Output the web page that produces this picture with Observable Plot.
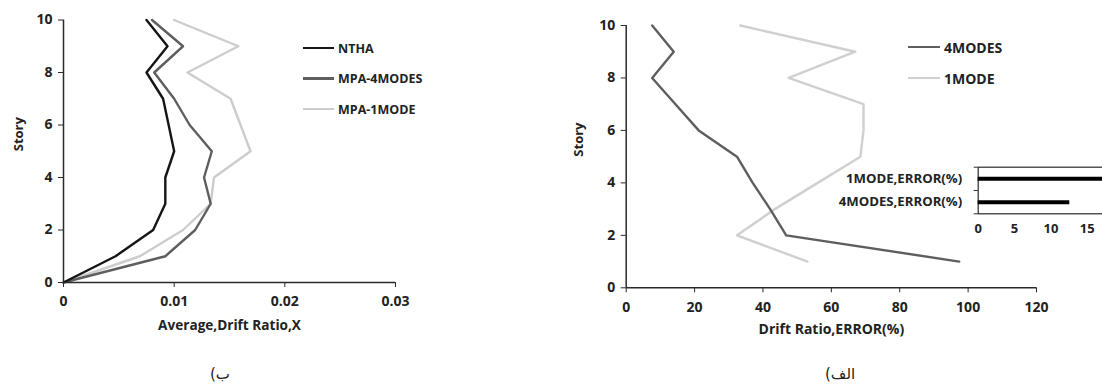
<!DOCTYPE html>
<html><head><meta charset="utf-8">
<script src="https://cdn.jsdelivr.net/npm/d3@7"></script>
<script src="https://cdn.jsdelivr.net/npm/@observablehq/plot@0.6"></script>
<style>
html,body{margin:0;padding:0;background:#fff;overflow:hidden;width:1102px;height:388px;}
#root{position:relative;width:1102px;height:388px;overflow:hidden;font-family:"Open Sans",sans-serif;}
.legend{position:absolute;font-weight:700;color:#222;font-family:"Open Sans",sans-serif;}
.legend .row{position:absolute;display:flex;align-items:center;white-space:nowrap;}
.legend .sw{display:inline-block;height:2.5px;margin-right:4px;}
.cap{position:absolute;font-family:"DejaVu Sans",sans-serif;font-size:15px;color:#222;direction:rtl;}
</style></head>
<body><div id="root"></div>
<script>
// ---------- data ----------
const stories = [0, 1, 2, 3, 4, 5, 6, 7, 8, 9, 10];
const nthaDrift = [0, 0.0047, 0.0081, 0.0092, 0.0092, 0.0100, 0.0095, 0.0090, 0.0075, 0.0094, 0.0075];
const mpa4Drift = [0, 0.0092, 0.0119, 0.0133, 0.0127, 0.0134, 0.0114, 0.0100, 0.0082, 0.0108, 0.0080];
const mpa1Drift = [0, 0.0069, 0.0108, 0.0133, 0.0136, 0.0169, 0.0160, 0.0151, 0.0112, 0.0158, 0.0100];
const driftSeries = ["NTHA", "MPA-4MODES", "MPA-1MODE"];

const errStories = [1, 2, 3, 4, 5, 6, 7, 8, 9, 10];
const err4Modes = [97.4, 46.8, 42.1, 37.0, 32.4, 21.2, 14.4, 7.6, 13.9, 7.6];
const err1Mode = [53.0, 32.4, 43.5, 56.0, 68.5, 69.4, 69.4, 47.5, 67.0, 33.4];
const errSeries = ["4MODES", "1MODE"];

const insetCats = ["1MODE,ERROR(%)", "4MODES,ERROR(%)"];
const insetVals = [20, 12.6];

const driftTicksX = [0, 0.01, 0.02, 0.03];
const storyTicks = [0, 2, 4, 6, 8, 10];
const errTicksX = [0, 20, 40, 60, 80, 100, 120];
const insetTicksX = [0, 5, 10, 15];

const colors = {"NTHA": "#151515", "MPA-4MODES": "#5e5e5e", "MPA-1MODE": "#cdcdcd", "4MODES": "#5e5e5e", "1MODE": "#d0d0d0"};
const axisColor = "#2a2a2a";
const textColor = "#222";

const root = document.getElementById("root");
function place(el, left, top) { el.style.position = "absolute"; el.style.left = left + "px"; el.style.top = top + "px"; root.appendChild(el); return el; }

// ---------- left chart ----------
const driftRows = [];
[nthaDrift, mpa4Drift, mpa1Drift].forEach((arr, k) => stories.forEach((s, i) => driftRows.push({series: driftSeries[k], story: s, v: arr[i]})));

const left = Plot.plot({
  width: 420, height: 340,
  marginLeft: 63, marginTop: 19.5, marginRight: 25, marginBottom: 58,
  style: {fontFamily: "Open Sans, sans-serif", fontWeight: 700, fontSize: "14px", color: textColor, background: "transparent", overflow: "visible"},
  x: {domain: [0, 0.03]},
  y: {domain: [0, 10]},
  marks: [
    Plot.axisX({ticks: driftTicksX, tickFormat: d => String(+d.toFixed(2)), tickSize: 5, tickPadding: 9, label: null, stroke: axisColor}),
    Plot.axisY({ticks: storyTicks, tickSize: 5, tickPadding: 6, label: null, stroke: axisColor}),
    ...driftSeries.slice().reverse().map(s => Plot.line(driftRows.filter(d => d.series === s), {x: "v", y: "story", stroke: colors[s], strokeWidth: 2.4})),
    Plot.ruleX([0], {stroke: axisColor, strokeWidth: 1.5}),
    Plot.ruleY([0], {stroke: axisColor, strokeWidth: 1.5}),
    Plot.text(["Average,Drift Ratio,X"], {frameAnchor: "bottom", dy: 47, fontSize: 13.6, fill: textColor}),
    Plot.text(["Story"], {frameAnchor: "left", dx: -45, rotate: -90, fontSize: 13, fill: textColor})
  ]
});
place(left, 0, 0);

// ---------- right chart ----------
const errRows = [];
[err4Modes, err1Mode].forEach((arr, k) => errStories.forEach((s, i) => errRows.push({series: errSeries[k], story: s, v: arr[i]})));

const right = Plot.plot({
  width: 506, height: 345,
  marginLeft: 75.7, marginTop: 25, marginRight: 20, marginBottom: 57.7,
  style: {fontFamily: "Open Sans, sans-serif", fontWeight: 700, fontSize: "14px", color: textColor, background: "transparent", overflow: "visible"},
  x: {domain: [0, 120]},
  y: {domain: [0, 10]},
  marks: [
    Plot.axisX({ticks: errTicksX, tickSize: 5, tickPadding: 9, label: null, stroke: axisColor}),
    Plot.axisY({ticks: storyTicks, tickSize: 5, tickPadding: 6, label: null, stroke: axisColor}),
    ...errSeries.slice().reverse().map(s => Plot.line(errRows.filter(d => d.series === s), {x: "v", y: "story", stroke: colors[s], strokeWidth: 2.4})),
    Plot.ruleX([0], {stroke: axisColor, strokeWidth: 1.5}),
    Plot.ruleY([0], {stroke: axisColor, strokeWidth: 1.5}),
    Plot.text(["Drift Ratio,ERROR(%)"], {frameAnchor: "bottom", dy: 46, fontSize: 14, fill: textColor}),
    Plot.text(["Story"], {frameAnchor: "left", dx: -47, rotate: -90, fontSize: 13, fill: textColor})
  ]
});
place(right, 550, 0);

// ---------- inset bar chart ----------
const insetRows = insetCats.map((c, i) => ({cat: c, value: insetVals[i], pos: i + 0.5}));
const inset = Plot.plot({
  width: 263.1, height: 93.3,
  marginLeft: 117.7, marginTop: 16.7, marginRight: 0, marginBottom: 30,
  style: {fontFamily: "Open Sans, sans-serif", fontWeight: 700, fontSize: "13px", color: textColor, background: "transparent", overflow: "visible"},
  x: {domain: [0, 20]},
  y: {domain: [0, insetCats.length], reverse: true},
  marks: [
    Plot.frame({stroke: axisColor, strokeWidth: 1.2}),
    Plot.axisX({ticks: insetTicksX, tickSize: 0, tickPadding: 10, label: null}),
    Plot.axisY({ticks: d3.range(insetCats.length + 1), tickSize: 4, tickFormat: () => "", label: null, stroke: axisColor}),
    Plot.ruleY(insetRows, {y: "pos", x1: 0, x2: "value", stroke: "#000", strokeWidth: 4}),
    Plot.text(insetRows, {y: "pos", x: 0, text: "cat", dx: -16, textAnchor: "end", fill: textColor, fontSize: 13.2})
  ]
});
place(inset, 860, 150);

// ---------- legends ----------
function legend(names, left, top, gap, swW, fontSize) {
  const box = document.createElement("div");
  box.className = "legend";
  names.forEach((n, i) => {
    const row = document.createElement("div");
    row.className = "row";
    row.style.top = (i * gap) + "px";
    row.style.fontSize = fontSize + "px";
    row.style.height = "0px";
    const sw = document.createElement("span");
    sw.className = "sw";
    sw.style.width = swW + "px";
    sw.style.background = colors[n];
    row.appendChild(sw);
    row.appendChild(document.createTextNode(n));
    box.appendChild(row);
  });
  return place(box, left, top);
}
legend(driftSeries, 303, 48, 30.5, 31, 12.5);
legend(errSeries, 908, 47, 31, 32, 14);

// ---------- panel captions ----------
const capB = document.createElement("div"); capB.className = "cap"; capB.textContent = "ب)";
place(capB, 210, 365);
const capA = document.createElement("div"); capA.className = "cap"; capA.textContent = "الف)";
place(capA, 825, 365);
</script>
</body></html>
